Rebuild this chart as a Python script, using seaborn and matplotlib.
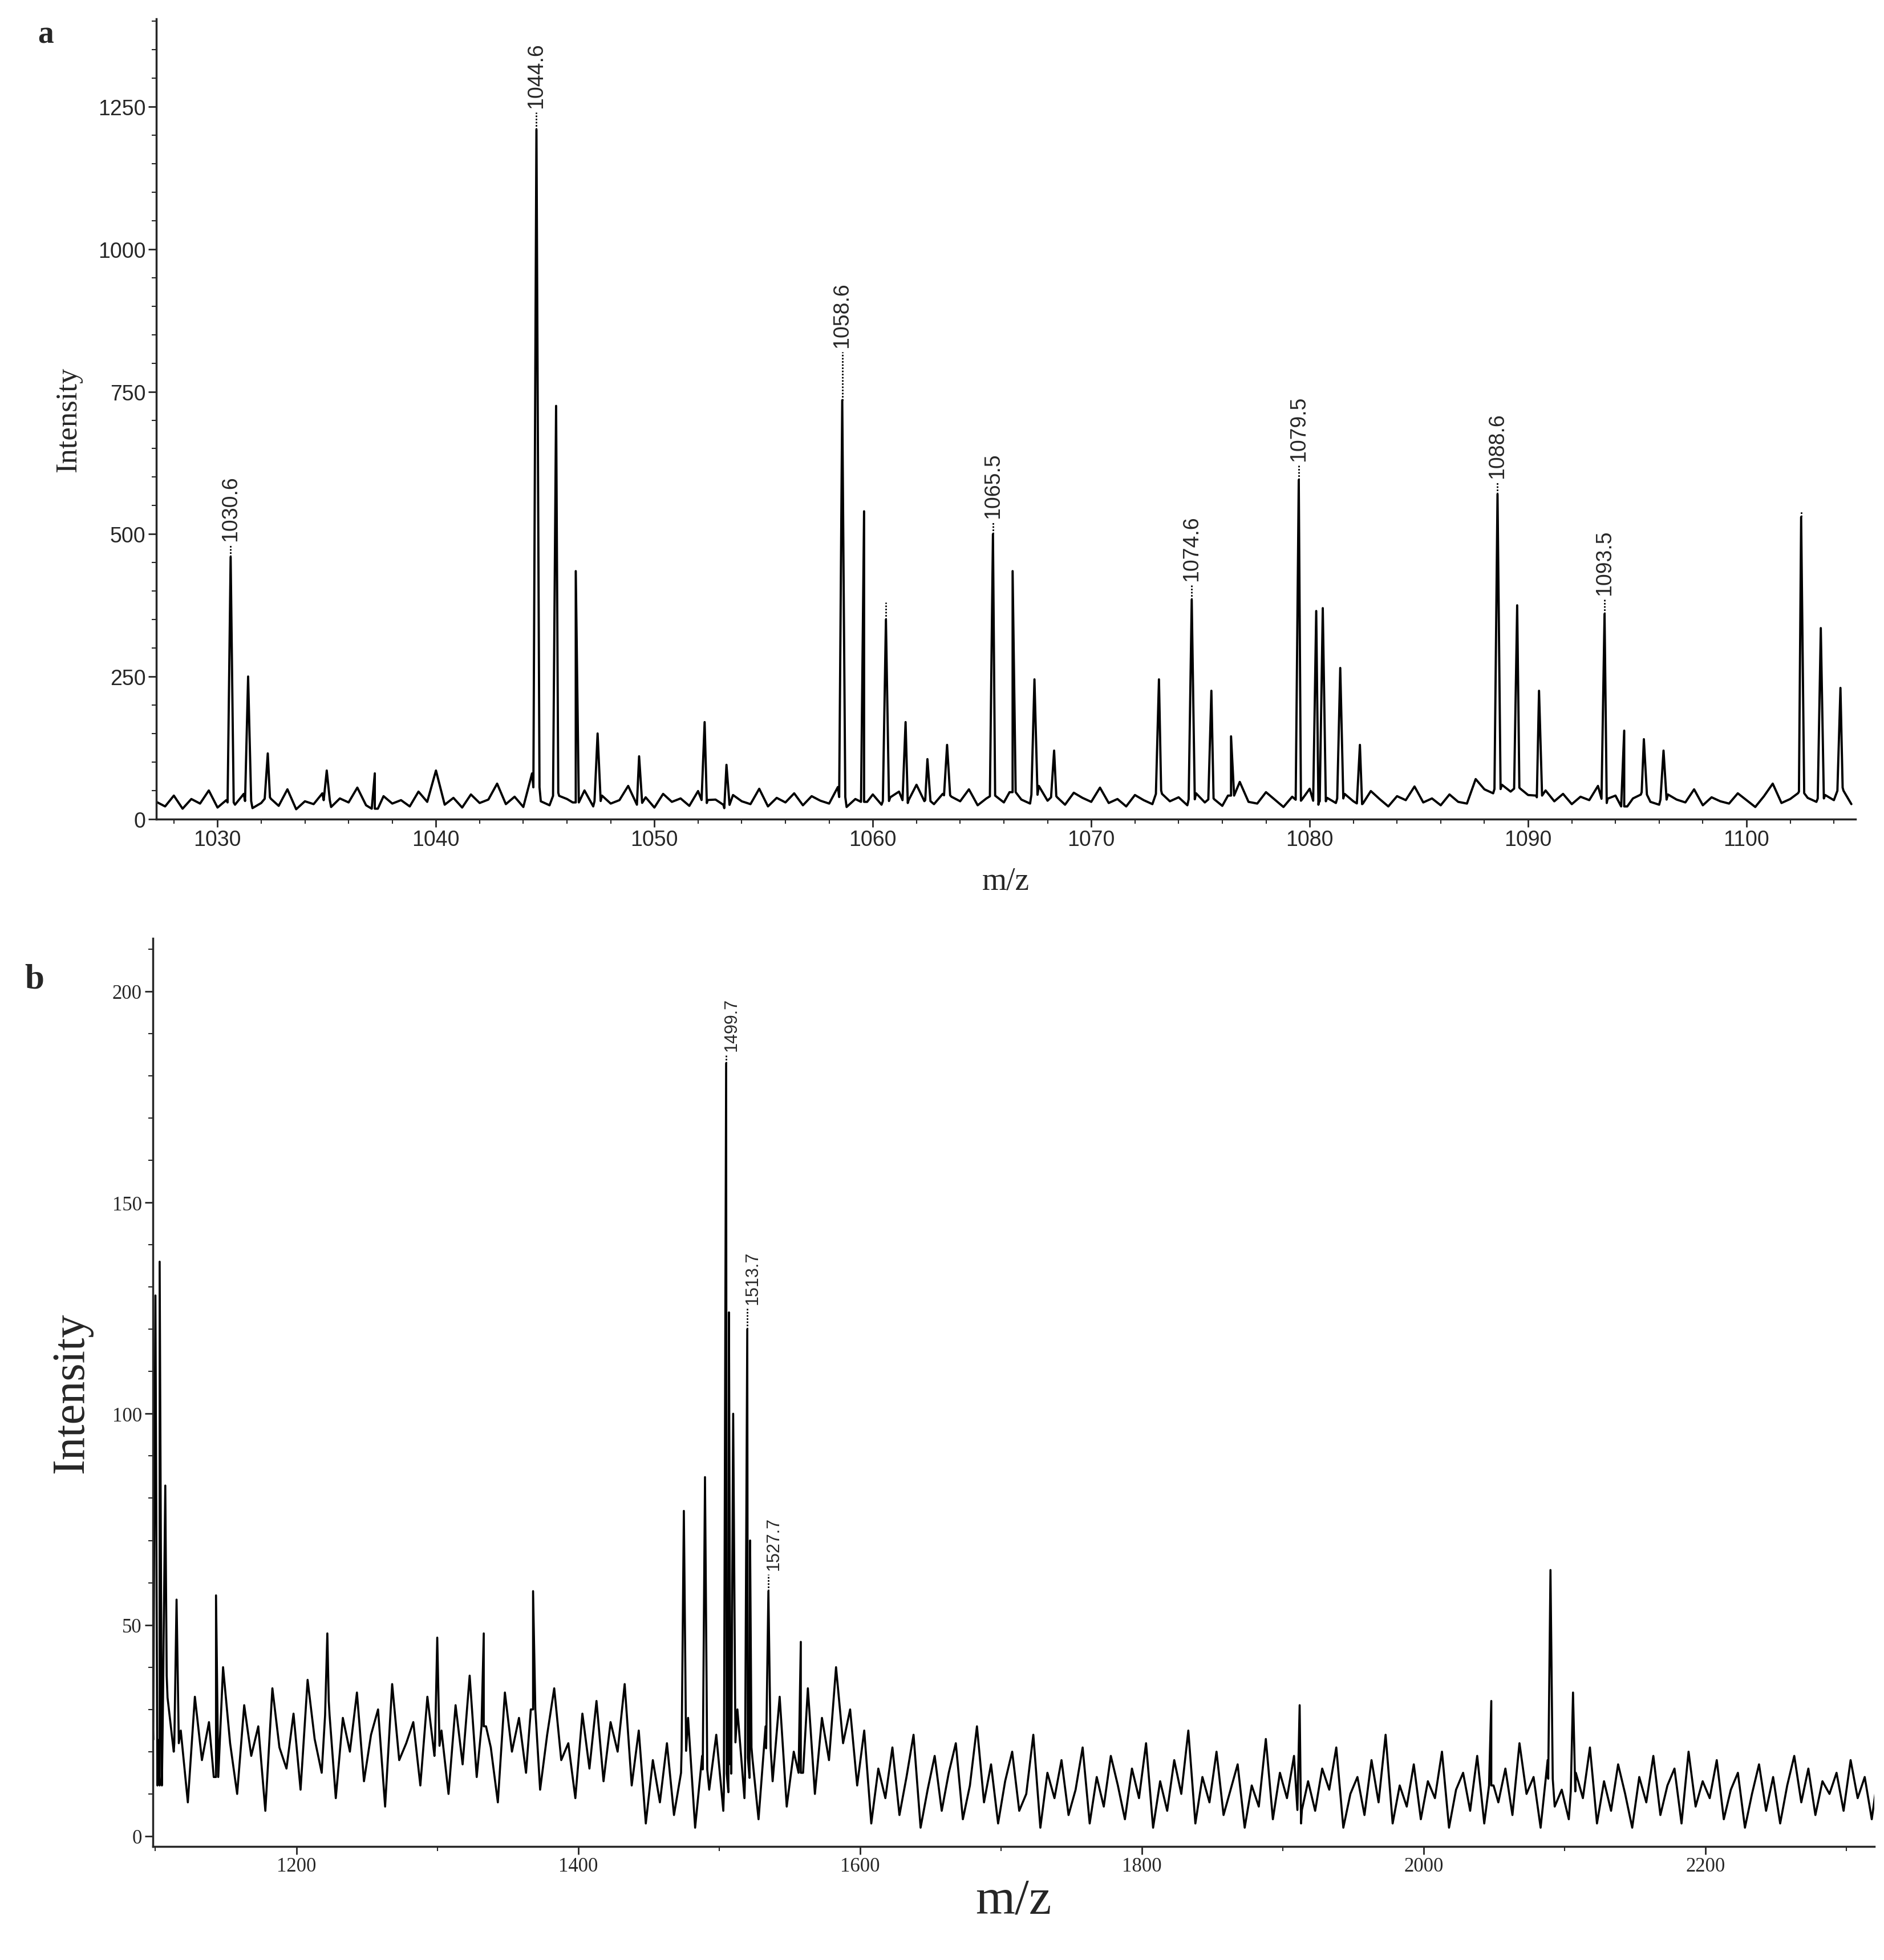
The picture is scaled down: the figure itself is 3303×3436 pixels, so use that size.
import numpy as np
import pandas as pd
import matplotlib
matplotlib.use("Agg")
import matplotlib.pyplot as plt
import seaborn as sns
from matplotlib.ticker import MultipleLocator

sns.set_theme(style="ticks")
plt.rcParams['font.family'] = ['Liberation Serif', 'DejaVu Serif']

# ---- panel a data ----
a_noise_start, a_noise_step = 1027.2, 0.4
a_noise = [30, 22, 41, 18, 35, 27, 50, 20, 33, 25, 44, 19, 28, 38, 23, 52, 17, 31, 26, 45,
           21, 36, 29, 55, 24, 18, 40, 27, 33, 22, 48, 30, 85, 25, 37, 20, 43, 28, 34, 62,
           26, 39, 21, 80, 31, 24, 46, 35, 29, 50, 22, 41, 27, 33, 58, 25, 38, 20, 44, 30,
           36, 23, 49, 28, 34, 19, 42, 31, 26, 53, 22, 37, 29, 45, 24, 40, 32, 27, 56, 21,
           35, 30, 43, 25, 38, 48, 28, 60, 33, 26, 44, 39, 31, 52, 24, 36, 41, 29, 47, 34,
           27, 58, 32, 40, 25, 46, 37, 30, 55, 28, 35, 22, 42, 33, 26, 50, 31, 38, 24, 45,
           29, 36, 23, 41, 65, 30, 27, 47, 34, 21, 39, 32, 53, 25, 37, 28, 44, 31, 26, 49,
           35, 22, 40, 33, 57, 29, 36, 24, 43, 30, 27, 70, 52, 45, 60, 48, 55, 42, 38, 50,
           31, 44, 26, 39, 33, 58, 28, 41, 22, 36, 47, 30, 25, 43, 34, 29, 52, 24, 38, 31,
           27, 45, 33, 21, 40, 62, 28, 35, 48, 37, 30, 42, 33, 55, 26]
a_peak_mz = [1030.6, 1031.4, 1032.3, 1035.0, 1037.2, 1044.6, 1045.5, 1046.4, 1047.4, 1049.3,
             1052.3, 1053.3, 1058.6, 1059.6, 1060.6, 1061.5, 1062.5, 1063.4, 1065.5, 1066.4,
             1067.4, 1068.3, 1073.1, 1074.6, 1075.5, 1076.4, 1079.5, 1080.3, 1080.6, 1081.4,
             1082.3, 1088.6, 1089.5, 1090.5, 1093.5, 1094.4, 1095.3, 1096.2, 1102.5, 1103.4,
             1104.3]
a_peak_int = [460, 250, 115, 85, 80, 1210, 725, 435, 150, 110,
              170, 95, 735, 540, 350, 170, 105, 130, 500, 435,
              245, 120, 245, 385, 225, 145, 595, 365, 370, 265,
              130, 570, 375, 225, 360, 155, 140, 120, 530, 335,
              230]
a_label_mz = [1030.6, 1044.6, 1058.6, 1065.5, 1074.6, 1079.5, 1088.6, 1093.5]
a_label_top = [480, 1240, 820, 520, 410, 620, 590, 385]
a_label_peak = [460, 1210, 735, 500, 385, 595, 570, 360]
a_extra_dot_mz = [1060.6, 1102.5]
a_extra_dot = [(350, 380), (530, 540)]

# ---- panel b data ----
b_noise_start, b_noise_step = 1098, 5
b_noise = [30, 12, 38, 20, 25, 8, 33, 18, 27, 14, 40, 22, 10, 31, 19, 26, 6, 35, 21, 16,
           29, 11, 37, 23, 15, 32, 9, 28, 20, 34, 13, 24, 30, 7, 36, 18, 22, 27, 12, 33,
           19, 25, 10, 31, 17, 38, 14, 26, 21, 8, 34, 20, 28, 15, 30, 11, 24, 35, 18, 22,
           9, 29, 16, 32, 13, 27, 20, 36, 12, 25, 3, 18, 8, 22, 5, 15, 28, 2, 19, 11,
           24, 6, 17, 30, 9, 21, 4, 26, 13, 33, 7, 20, 15, 35, 10, 28, 18, 40, 22, 30,
           12, 25, 3, 16, 9, 21, 5, 14, 24, 2, 11, 19, 6, 15, 22, 4, 12, 26, 8, 17,
           3, 13, 20, 6, 10, 24, 2, 15, 9, 18, 5, 11, 21, 3, 14, 7, 19, 12, 4, 16,
           9, 22, 2, 13, 6, 18, 10, 25, 3, 14, 8, 20, 5, 11, 17, 2, 12, 7, 23, 4,
           15, 9, 19, 3, 13, 6, 16, 11, 21, 2, 10, 14, 5, 18, 8, 24, 3, 12, 7, 17,
           4, 13, 9, 20, 2, 11, 15, 6, 19, 3, 12, 8, 16, 5, 22, 10, 14, 2, 18, 7,
           11, 4, 15, 9, 21, 3, 13, 6, 17, 10, 2, 14, 8, 19, 5, 12, 16, 3, 20, 7,
           13, 9, 18, 4, 11, 15, 2, 10, 17, 6, 14, 3, 12, 19, 8, 16, 5, 13, 10, 15,
           6, 18, 9, 14, 4, 16]
b_peak_mz = [1100, 1103, 1107, 1115, 1143, 1222, 1300, 1333, 1368, 1475, 1490,
             1505, 1507, 1510, 1520, 1522, 1535, 1558, 2090, 2106, 1912, 2048]
b_peak_int = [128, 136, 83, 56, 57, 48, 47, 48, 58, 77, 85,
              183, 124, 100, 120, 70, 58, 46, 63, 34, 31, 32]
b_label_txt = ["1499.7", "1513.7", "1527.7"]
b_label_mz = [1505, 1520, 1535]
b_label_top = [185, 125, 62]
b_label_peak = [183, 120, 58]


def spectrum(noise, start, step, pmz, pint, hw):
    nx = start + step * np.arange(len(noise))
    base = np.interp(pmz, nx, noise)
    xs = np.concatenate([nx, np.array(pmz) - hw, pmz, np.array(pmz) + hw])
    ys = np.concatenate([noise, base, pint, base])
    df = pd.DataFrame({"mz": xs, "intensity": ys}).sort_values("mz").reset_index(drop=True)
    return df


fig = plt.figure(figsize=(33.03, 34.37), dpi=100)
ax1 = fig.add_axes([0.083, 0.582, 0.902, 0.408])
ax2 = fig.add_axes([0.081, 0.058, 0.914, 0.463])

# panel a
dfa = spectrum(a_noise, a_noise_start, a_noise_step, a_peak_mz, a_peak_int, 0.14)
sns.lineplot(data=dfa, x="mz", y="intensity", ax=ax1, color="black", lw=2.8,
             sort=False, estimator=None, errorbar=None)
ax1.set_xlim(1027.2, 1105)
ax1.set_ylim(0, 1404)
ax1.xaxis.set_major_locator(MultipleLocator(10))
ax1.xaxis.set_minor_locator(MultipleLocator(2))
ax1.yaxis.set_major_locator(MultipleLocator(250))
ax1.yaxis.set_minor_locator(MultipleLocator(50))
for m, top, pk in zip(a_label_mz, a_label_top, a_label_peak):
    ax1.plot([m, m], [pk, top], color="black", lw=2, ls=(0, (1, 1)))
    ax1.text(m, top + 8, f"{m:.1f}", rotation=90, ha="center", va="bottom",
             fontsize=27, family=['Liberation Sans', 'DejaVu Sans'])
for m, (pk, top) in zip(a_extra_dot_mz, a_extra_dot):
    ax1.plot([m, m], [pk, top], color="black", lw=2, ls=(0, (1, 1)))
for lab in ax1.get_xticklabels() + ax1.get_yticklabels():
    lab.set_family(['Liberation Sans', 'DejaVu Sans'])
ax1.tick_params(labelsize=27, length=10, width=2)
ax1.tick_params(which="minor", length=6, width=1.5)
ax1.set_xlabel("m/z", fontsize=40, labelpad=20)
ax1.set_ylabel("Intensity", fontsize=38, labelpad=20)
fig.text(0.02, 0.978, "a", fontsize=40, fontweight="bold")

# panel b
dfb = spectrum(b_noise, b_noise_start, b_noise_step, b_peak_mz, b_peak_int, 1.6)
sns.lineplot(data=dfb, x="mz", y="intensity", ax=ax2, color="black", lw=2.6,
             sort=False, estimator=None, errorbar=None)
ax2.set_xlim(1098, 2320)
ax2.set_ylim(-2.4, 212.5)
ax2.xaxis.set_major_locator(MultipleLocator(200))
ax2.xaxis.set_minor_locator(MultipleLocator(100))
ax2.yaxis.set_major_locator(MultipleLocator(50))
ax2.yaxis.set_minor_locator(MultipleLocator(10))
for t, m, top, pk in zip(b_label_txt, b_label_mz, b_label_top, b_label_peak):
    ax2.plot([m, m], [pk, top], color="black", lw=2, ls=(0, (1, 1)))
    ax2.text(m + 4, top + 1, t, rotation=90, ha="center", va="bottom",
             fontsize=22, family=['Liberation Sans', 'DejaVu Sans'])
ax2.tick_params(labelsize=25, length=10, width=2)
ax2.tick_params(which="minor", length=6, width=1.5)
ax2.set_xlabel("m/z", fontsize=64, labelpad=2)
ax2.set_ylabel("Intensity", fontsize=58, labelpad=25)
fig.text(0.013, 0.496, "b", fontsize=44, fontweight="bold")

for ax in (ax1, ax2):
    sns.despine(ax=ax)
    for s in ("left", "bottom"):
        ax.spines[s].set_linewidth(2.5)

fig.savefig("out.png", dpi=100)
